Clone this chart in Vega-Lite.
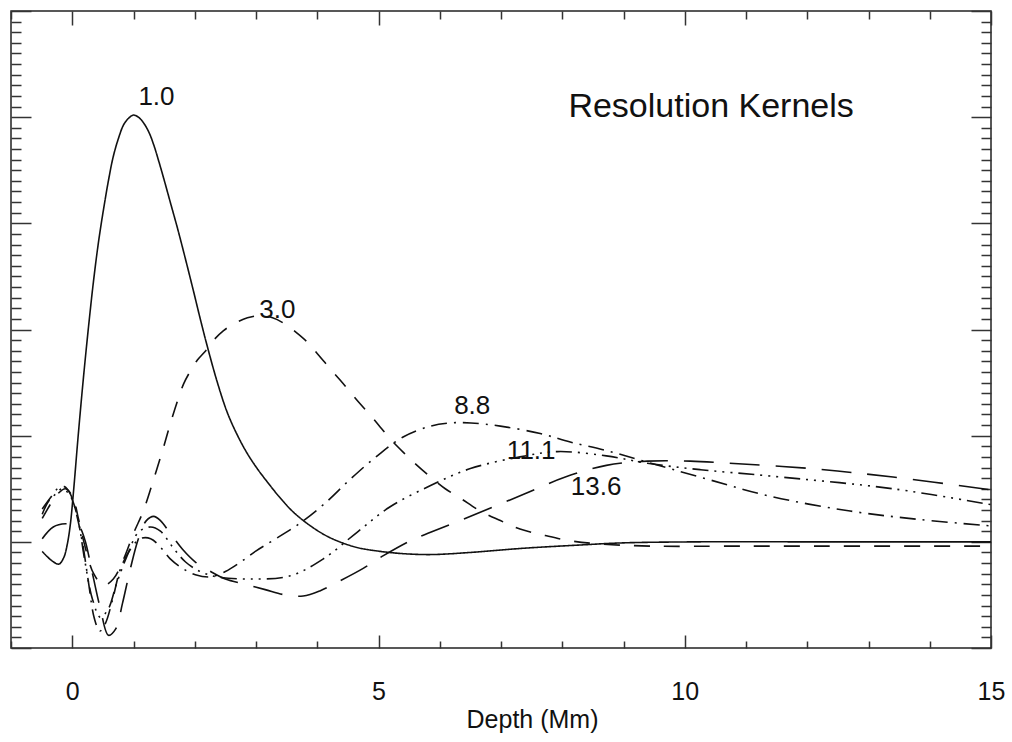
{
  "$schema": "https://vega.github.io/schema/vega-lite/v6.json",
  "width": 980,
  "height": 637,
  "autosize": "none",
  "padding": {"left": 11, "top": 11, "right": 21, "bottom": 94},
  "background": "white",
  "config": {
    "view": {"stroke": "#222", "strokeWidth": 1.5},
    "axis": {"grid": false, "domain": false, "tickColor": "#333", "tickWidth": 1.5, "labelFont": "Liberation Sans", "titleFont": "Liberation Sans", "labelColor": "#111", "titleColor": "#111"}
  },
  "layer": [
    {
      "data": {"values": [
        {"s":"1.0","x":-0.49,"y":-0.09},{"s":"1.0","x":-0.35,"y":-0.17},{"s":"1.0","x":-0.22,"y":-0.21},{"s":"1.0","x":-0.14,"y":-0.15},{"s":"1.0","x":-0.08,"y":-0.02},{"s":"1.0","x":-0.03,"y":0.17},{"s":"1.0","x":0.02,"y":0.47},{"s":"1.0","x":0.10,"y":1.02},{"s":"1.0","x":0.18,"y":1.53},{"s":"1.0","x":0.27,"y":2.05},{"s":"1.0","x":0.35,"y":2.47},{"s":"1.0","x":0.43,"y":2.83},{"s":"1.0","x":0.51,"y":3.13},{"s":"1.0","x":0.59,"y":3.40},{"s":"1.0","x":0.67,"y":3.63},{"s":"1.0","x":0.76,"y":3.81},{"s":"1.0","x":0.84,"y":3.93},{"s":"1.0","x":0.92,"y":3.99},{"s":"1.0","x":1.00,"y":4.02},{"s":"1.0","x":1.08,"y":4.00},{"s":"1.0","x":1.16,"y":3.95},{"s":"1.0","x":1.25,"y":3.86},{"s":"1.0","x":1.33,"y":3.74},{"s":"1.0","x":1.41,"y":3.59},{"s":"1.0","x":1.49,"y":3.43},{"s":"1.0","x":1.60,"y":3.20},{"s":"1.0","x":1.72,"y":2.95},{"s":"1.0","x":1.85,"y":2.66},{"s":"1.0","x":1.98,"y":2.36},{"s":"1.0","x":2.09,"y":2.10},{"s":"1.0","x":2.21,"y":1.83},{"s":"1.0","x":2.37,"y":1.50},{"s":"1.0","x":2.53,"y":1.22},{"s":"1.0","x":2.70,"y":1.00},{"s":"1.0","x":2.86,"y":0.83},{"s":"1.0","x":3.02,"y":0.69},{"s":"1.0","x":3.19,"y":0.56},{"s":"1.0","x":3.40,"y":0.41},{"s":"1.0","x":3.61,"y":0.28},{"s":"1.0","x":3.89,"y":0.15},{"s":"1.0","x":4.17,"y":0.05},{"s":"1.0","x":4.46,"y":-0.02},{"s":"1.0","x":4.70,"y":-0.06},{"s":"1.0","x":5.03,"y":-0.09},{"s":"1.0","x":5.37,"y":-0.11},{"s":"1.0","x":5.85,"y":-0.12},{"s":"1.0","x":6.50,"y":-0.10},{"s":"1.0","x":7.38,"y":-0.06},{"s":"1.0","x":8.29,"y":-0.03},{"s":"1.0","x":8.98,"y":-0.01},{"s":"1.0","x":10.25,"y":0},{"s":"1.0","x":11.9,"y":0},{"s":"1.0","x":15,"y":0},

        {"s":"3.0","x":-0.49,"y":0.22},{"s":"3.0","x":-0.35,"y":0.36},{"s":"3.0","x":-0.24,"y":0.45},{"s":"3.0","x":-0.11,"y":0.50},{"s":"3.0","x":0.01,"y":0.42},{"s":"3.0","x":0.10,"y":0.22},{"s":"3.0","x":0.22,"y":-0.07},{"s":"3.0","x":0.35,"y":-0.30},{"s":"3.0","x":0.51,"y":-0.41},{"s":"3.0","x":0.67,"y":-0.35},{"s":"3.0","x":0.84,"y":-0.16},{"s":"3.0","x":1.00,"y":0.08},{"s":"3.0","x":1.16,"y":0.29},{"s":"3.0","x":1.33,"y":0.59},{"s":"3.0","x":1.49,"y":0.89},{"s":"3.0","x":1.60,"y":1.11},{"s":"3.0","x":1.72,"y":1.33},{"s":"3.0","x":1.82,"y":1.49},{"s":"3.0","x":1.93,"y":1.61},{"s":"3.0","x":2.04,"y":1.71},{"s":"3.0","x":2.18,"y":1.80},{"s":"3.0","x":2.31,"y":1.90},{"s":"3.0","x":2.47,"y":1.99},{"s":"3.0","x":2.66,"y":2.06},{"s":"3.0","x":2.86,"y":2.11},{"s":"3.0","x":3.07,"y":2.13},{"s":"3.0","x":3.27,"y":2.11},{"s":"3.0","x":3.45,"y":2.06},{"s":"3.0","x":3.64,"y":1.98},{"s":"3.0","x":3.84,"y":1.88},{"s":"3.0","x":4.02,"y":1.76},{"s":"3.0","x":4.21,"y":1.63},{"s":"3.0","x":4.38,"y":1.52},{"s":"3.0","x":4.54,"y":1.41},{"s":"3.0","x":4.70,"y":1.30},{"s":"3.0","x":4.87,"y":1.19},{"s":"3.0","x":5.03,"y":1.08},{"s":"3.0","x":5.19,"y":0.97},{"s":"3.0","x":5.41,"y":0.84},{"s":"3.0","x":5.63,"y":0.72},{"s":"3.0","x":5.85,"y":0.61},{"s":"3.0","x":6.09,"y":0.50},{"s":"3.0","x":6.34,"y":0.41},{"s":"3.0","x":6.66,"y":0.29},{"s":"3.0","x":6.99,"y":0.20},{"s":"3.0","x":7.31,"y":0.12},{"s":"3.0","x":7.72,"y":0.06},{"s":"3.0","x":8.13,"y":0.01},{"s":"3.0","x":8.62,"y":-0.02},{"s":"3.0","x":9.43,"y":-0.04},{"s":"3.0","x":11.07,"y":-0.04},{"s":"3.0","x":15,"y":-0.04},

        {"s":"8.8","x":-0.49,"y":0.31},{"s":"8.8","x":-0.35,"y":0.42},{"s":"8.8","x":-0.24,"y":0.50},{"s":"8.8","x":-0.13,"y":0.52},{"s":"8.8","x":-0.03,"y":0.45},{"s":"8.8","x":0.07,"y":0.26},{"s":"8.8","x":0.17,"y":-0.02},{"s":"8.8","x":0.27,"y":-0.40},{"s":"8.8","x":0.36,"y":-0.72},{"s":"8.8","x":0.45,"y":-0.84},{"s":"8.8","x":0.54,"y":-0.77},{"s":"8.8","x":0.66,"y":-0.54},{"s":"8.8","x":0.79,"y":-0.25},{"s":"8.8","x":0.95,"y":-0.07},{"s":"8.8","x":1.11,"y":0.03},{"s":"8.8","x":1.28,"y":0.03},{"s":"8.8","x":1.44,"y":-0.05},{"s":"8.8","x":1.60,"y":-0.16},{"s":"8.8","x":1.80,"y":-0.25},{"s":"8.8","x":2.01,"y":-0.31},{"s":"8.8","x":2.26,"y":-0.33},{"s":"8.8","x":2.50,"y":-0.28},{"s":"8.8","x":2.75,"y":-0.19},{"s":"8.8","x":2.99,"y":-0.09},{"s":"8.8","x":3.24,"y":0.00},{"s":"8.8","x":3.68,"y":0.16},{"s":"8.8","x":4.10,"y":0.35},{"s":"8.8","x":4.54,"y":0.59},{"s":"8.8","x":4.98,"y":0.81},{"s":"8.8","x":5.41,"y":0.99},{"s":"8.8","x":5.85,"y":1.09},{"s":"8.8","x":6.17,"y":1.12},{"s":"8.8","x":6.51,"y":1.12},{"s":"8.8","x":6.99,"y":1.09},{"s":"8.8","x":7.64,"y":1.02},{"s":"8.8","x":8.13,"y":0.94},{"s":"8.8","x":8.72,"y":0.86},{"s":"8.8","x":9.39,"y":0.75},{"s":"8.8","x":10.25,"y":0.61},{"s":"8.8","x":11.39,"y":0.43},{"s":"8.8","x":12.70,"y":0.29},{"s":"8.8","x":13.84,"y":0.21},{"s":"8.8","x":15,"y":0.15},

        {"s":"11.1","x":-0.49,"y":0.26},{"s":"11.1","x":-0.39,"y":0.38},{"s":"11.1","x":-0.27,"y":0.45},{"s":"11.1","x":-0.16,"y":0.50},{"s":"11.1","x":-0.03,"y":0.43},{"s":"11.1","x":0.09,"y":0.22},{"s":"11.1","x":0.20,"y":-0.16},{"s":"11.1","x":0.33,"y":-0.54},{"s":"11.1","x":0.46,"y":-0.71},{"s":"11.1","x":0.59,"y":-0.63},{"s":"11.1","x":0.72,"y":-0.40},{"s":"11.1","x":0.89,"y":-0.14},{"s":"11.1","x":1.08,"y":0.09},{"s":"11.1","x":1.28,"y":0.14},{"s":"11.1","x":1.44,"y":0.10},{"s":"11.1","x":1.64,"y":-0.05},{"s":"11.1","x":1.85,"y":-0.19},{"s":"11.1","x":2.09,"y":-0.28},{"s":"11.1","x":2.37,"y":-0.33},{"s":"11.1","x":2.91,"y":-0.35},{"s":"11.1","x":3.56,"y":-0.32},{"s":"11.1","x":4.10,"y":-0.16},{"s":"11.1","x":4.65,"y":0.09},{"s":"11.1","x":5.19,"y":0.33},{"s":"11.1","x":5.85,"y":0.53},{"s":"11.1","x":6.50,"y":0.69},{"s":"11.1","x":7.31,"y":0.80},{"s":"11.1","x":7.92,"y":0.85},{"s":"11.1","x":8.72,"y":0.81},{"s":"11.1","x":9.39,"y":0.74},{"s":"11.1","x":10.25,"y":0.68},{"s":"11.1","x":11.39,"y":0.62},{"s":"11.1","x":13.40,"y":0.50},{"s":"11.1","x":15,"y":0.35},

        {"s":"13.6","x":-0.49,"y":0.03},{"s":"13.6","x":-0.31,"y":0.14},{"s":"13.6","x":-0.11,"y":0.17},{"s":"13.6","x":0.10,"y":0.15},{"s":"13.6","x":0.20,"y":0.03},{"s":"13.6","x":0.33,"y":-0.30},{"s":"13.6","x":0.46,"y":-0.63},{"s":"13.6","x":0.59,"y":-0.88},{"s":"13.6","x":0.71,"y":-0.82},{"s":"13.6","x":0.82,"y":-0.58},{"s":"13.6","x":0.95,"y":-0.25},{"s":"13.6","x":1.08,"y":0.03},{"s":"13.6","x":1.21,"y":0.20},{"s":"13.6","x":1.33,"y":0.24},{"s":"13.6","x":1.44,"y":0.20},{"s":"13.6","x":1.60,"y":0.08},{"s":"13.6","x":1.80,"y":-0.07},{"s":"13.6","x":2.01,"y":-0.19},{"s":"13.6","x":2.26,"y":-0.28},{"s":"13.6","x":2.50,"y":-0.35},{"s":"13.6","x":2.83,"y":-0.40},{"s":"13.6","x":3.15,"y":-0.45},{"s":"13.6","x":3.48,"y":-0.50},{"s":"13.6","x":3.77,"y":-0.51},{"s":"13.6","x":4.05,"y":-0.46},{"s":"13.6","x":4.33,"y":-0.38},{"s":"13.6","x":4.75,"y":-0.25},{"s":"13.6","x":5.08,"y":-0.13},{"s":"13.6","x":5.52,"y":0.01},{"s":"13.6","x":5.85,"y":0.09},{"s":"13.6","x":6.37,"y":0.21},{"s":"13.6","x":7.38,"y":0.45},{"s":"13.6","x":8.05,"y":0.61},{"s":"13.6","x":8.72,"y":0.72},{"s":"13.6","x":9.39,"y":0.76},{"s":"13.6","x":10.09,"y":0.76},{"s":"13.6","x":10.72,"y":0.74},{"s":"13.6","x":12.06,"y":0.69},{"s":"13.6","x":13.40,"y":0.61},{"s":"13.6","x":15,"y":0.49}
      ]},
      "mark": {"type": "line", "interpolate": "catmull-rom", "color": "#111", "strokeWidth": 1.6, "clip": true},
      "encoding": {
        "x": {"field": "x", "type": "quantitative", "scale": {"domain": [-1, 15], "nice": false, "zero": false},
          "axis": {"orient": "bottom", "values": [-1,0,1,2,3,4,5,6,7,8,9,10,11,12,13,14,15],
            "tickSize": {"condition": {"test": "datum.value % 5 === 0", "value": -13}, "value": -7},
            "labelExpr": "datum.value % 5 === 0 ? datum.label : ''",
            "labelFontSize": 25, "labelPadding": 44, "labelFlush": false, "labelOverlap": false, "labelBound": false,
            "title": "Depth (Mm)", "titleFontSize": 25, "titleFontWeight": "normal", "titlePadding": -3, "titleX": 521}},
        "y": {"field": "y", "type": "quantitative", "scale": {"domain": [-1, 5], "nice": false, "zero": false},
          "axis": {"orient": "left", "values": [-1,-0.9,-0.8,-0.7,-0.6,-0.5,-0.4,-0.3,-0.2,-0.1,0,0.1,0.2,0.3,0.4,0.5,0.6,0.7,0.8,0.9,1,1.1,1.2,1.3,1.4,1.5,1.6,1.7,1.8,1.9,2,2.1,2.2,2.3,2.4,2.5,2.6,2.7,2.8,2.9,3,3.1,3.2,3.3,3.4,3.5,3.6,3.7,3.8,3.9,4,4.1,4.2,4.3,4.4,4.5,4.6,4.7,4.8,4.9,5],
            "tickSize": {"condition": {"test": "abs(datum.value - round(datum.value)) < 0.01", "value": -20}, "value": -10},
            "labels": false, "title": null}},
        "strokeDash": {"field": "s", "type": "nominal",
          "scale": {"domain": ["1.0", "3.0", "8.8", "11.1", "13.6"], "range": [[1, 0], [16, 14], [16, 7, 2, 7], [16, 6, 2, 6, 2, 6, 2, 6], [30, 16]]},
          "legend": null}
      }
    },
    {
      "data": {"values": [
        {"t": "1.0", "x": 1.375, "y": 4.186},
        {"t": "3.0", "x": 3.349, "y": 2.183},
        {"t": "8.8", "x": 6.53, "y": 1.279},
        {"t": "11.1", "x": 7.493, "y": 0.856},
        {"t": "13.6", "x": 8.553, "y": 0.517}
      ]},
      "mark": {"type": "text", "font": "Liberation Sans", "fontSize": 26, "color": "#111", "align": "center", "baseline": "middle"},
      "encoding": {
        "x": {"field": "x", "type": "quantitative",
          "axis": {"orient": "top", "values": [-1,0,1,2,3,4,5,6,7,8,9,10,11,12,13,14,15],
            "tickSize": {"condition": {"test": "datum.value % 5 === 0", "value": -14}, "value": -8},
            "labels": false, "title": null}},
        "y": {"field": "y", "type": "quantitative",
          "axis": {"orient": "right", "values": [-1,-0.9,-0.8,-0.7,-0.6,-0.5,-0.4,-0.3,-0.2,-0.1,0,0.1,0.2,0.3,0.4,0.5,0.6,0.7,0.8,0.9,1,1.1,1.2,1.3,1.4,1.5,1.6,1.7,1.8,1.9,2,2.1,2.2,2.3,2.4,2.5,2.6,2.7,2.8,2.9,3,3.1,3.2,3.3,3.4,3.5,3.6,3.7,3.8,3.9,4,4.1,4.2,4.3,4.4,4.5,4.6,4.7,4.8,4.9,5],
            "tickSize": {"condition": {"test": "abs(datum.value - round(datum.value)) < 0.01", "value": -20}, "value": -10},
            "labels": false, "title": null}},
        "text": {"field": "t", "type": "nominal"}
      }
    },
    {
      "data": {"values": [{"t": "Resolution Kernels", "x": 10.43, "y": 4.092}]},
      "mark": {"type": "text", "font": "Liberation Sans", "fontSize": 34, "color": "#111", "align": "center", "baseline": "middle"},
      "encoding": {
        "x": {"field": "x", "type": "quantitative", "axis": null},
        "y": {"field": "y", "type": "quantitative", "axis": null},
        "text": {"field": "t", "type": "nominal"}
      }
    }
  ]
}
